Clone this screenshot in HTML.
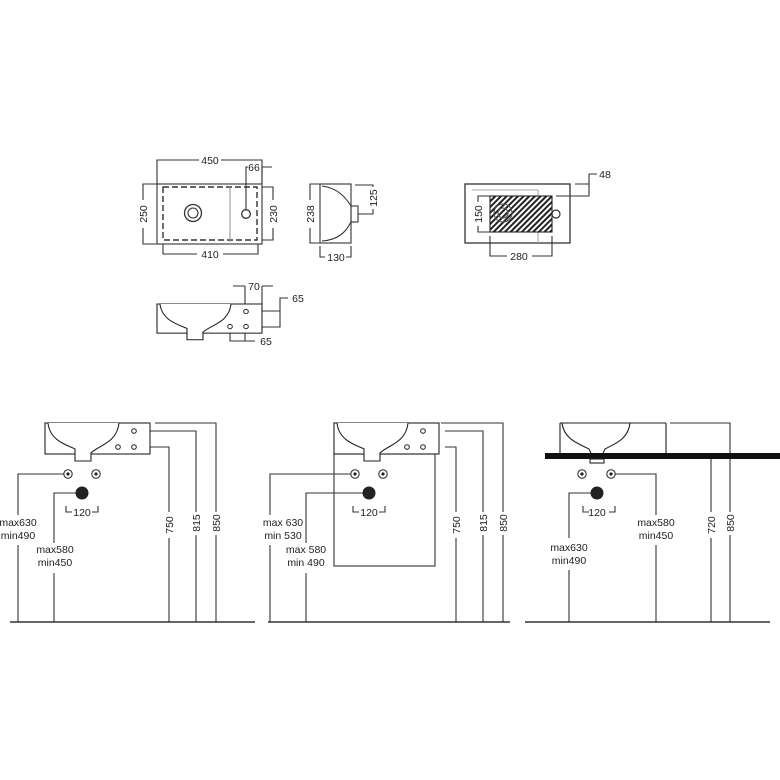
<!DOCTYPE html>
<html><head><meta charset="utf-8"><style>
html,body{margin:0;padding:0;background:#fff}
svg{display:block}
text{font-family:"Liberation Sans",Arial,sans-serif;font-size:10.5px;fill:#222}
</style></head><body>
<svg width="780" height="780" viewBox="0 0 780 780" xmlns="http://www.w3.org/2000/svg">
<defs>
<pattern id="h" width="4" height="4" patternUnits="userSpaceOnUse" patternTransform="rotate(45)">
<rect width="4" height="4" fill="#fff"/><rect width="2" height="4" fill="#222"/></pattern>
<g id="basin">
<rect x="0" y="0" width="105" height="31" fill="#fff" stroke="#222" stroke-width="1.1"/>
<path d="M3 0 C5 18 22 22 30 26 L30 38 L46 38 L46 30 C54 22 72 20 74 0" fill="#fff" stroke="#222" stroke-width="1.1"/>
<circle cx="89" cy="8" r="2.3" fill="none" stroke="#222"/>
<circle cx="89" cy="24" r="2.3" fill="none" stroke="#222"/>
<circle cx="73" cy="24" r="2.3" fill="none" stroke="#222"/>
</g>
<g id="ring"><circle r="4.2" fill="none" stroke="#222" stroke-width="1"/><circle r="1.6" fill="#222"/></g>
</defs>
<g stroke="#333" stroke-width="1.1" fill="none">
<rect x="157" y="184" width="105" height="60"/>
<rect x="163" y="187" width="94" height="53" stroke-dasharray="6,3" stroke-width="1.4"/>
<line x1="230" y1="187" x2="230" y2="242" stroke="#999"/>
<circle cx="193" cy="213" r="8.5" stroke-width="1.3"/><circle cx="193" cy="213" r="5"/>
<circle cx="246" cy="214" r="4.3" stroke-width="1.3"/>
<path d="M157 184V160H199M221 160H262V184"/>
<path d="M246 210V167H248M262 167H272M262 167V184"/>
<path d="M157 184H143V200M143 228V244H157"/>
<path d="M262 187H273V200M273 228V240H262"/>
<path d="M163 244V254H197M223 254H258V244"/>
<rect x="320" y="184" width="31" height="59"/>
<path d="M322 186C338 188 346 198 351 206M351 222C346 232 338 240 322 241"/>
<rect x="351" y="206" width="7" height="16"/>
<path d="M320 184H310V200M310 228V243H320"/>
<path d="M355 185H373V187M373 209V214H358"/>
<path d="M320 246V257H325M346 257H351V246"/>
<rect x="465" y="184" width="105" height="59" stroke-width="1.3"/>
<path d="M472 190H538V243" stroke="#aaa"/>
<rect x="490" y="196" width="62" height="36" fill="url(#h)" stroke="#222"/>
<circle cx="503" cy="213" r="9" stroke="#555"/><circle cx="503" cy="213" r="5" stroke="#555"/>
<circle cx="556" cy="214" r="4" stroke-width="1.2"/>
<path d="M490 196H478V202M478 226V232H490"/>
<path d="M490 236V256H507M532 256H552V236"/>
<path d="M575 184H589V174H597M556 196H589V184"/>
<path d="M233 286H245M262 286H273M245 286V308M262 286V304"/>
<path d="M250 311H280V298H288M250 327H280V311"/>
<path d="M230 330V341H255M245 330V341"/>
<path d="M10 622H255" stroke-width="1.6"/>
<path d="M268 622H510" stroke-width="1.6"/>
<path d="M525 622H770" stroke-width="1.6"/>
<path d="M64 474H18V515M18 545V622"/>
<path d="M76 493H54V543M54 573V622"/>
<path d="M138 447H169V512M169 538V622"/>
<path d="M138 431H196V512M196 535V622"/>
<path d="M155 423H216V512M216 535V622"/>
<path d="M351 474H270V515M270 545V622"/>
<path d="M363 493H306V543M306 573V622"/>
<path d="M445 447H456V512M456 538V622"/>
<path d="M445 431H483V512M483 535V622"/>
<path d="M441 423H503V512M503 535V622"/>
<rect x="334" y="454" width="101" height="112"/>
<path d="M615 474H656V515M656 545V622"/>
<path d="M593 493H569V538M569 570V622"/>
<path d="M711 459V512M711 538V622"/>
<path d="M670 423H730V512M730 535V622"/>
<path d="M66 506V512H72M92 512H98V506"/>
<path d="M353 506V512H359M379 512H385V506"/>
<path d="M583 506V512H589M609 512H615V506"/>
</g>
<use href="#basin" transform="translate(157,304) scale(1,0.94)"/>
<use href="#basin" transform="translate(45,423)"/>
<use href="#basin" transform="translate(334,423)"/>
<rect x="545" y="453" width="235" height="6" fill="#111"/>
<g fill="none" stroke="#222" stroke-width="1.1"><path d="M560 423V453M666 423V453M560 423H666M562 423C564 440 580 444 589 449L591 453M603 453L605 449C614 444 628 440 630 423"/><rect x="590" y="459" width="14" height="4"/></g>
<use href="#ring" x="68" y="474"/><use href="#ring" x="96" y="474"/>
<use href="#ring" x="355" y="474"/><use href="#ring" x="383" y="474"/>
<use href="#ring" x="582" y="474"/><use href="#ring" x="611" y="474"/>
<circle cx="82" cy="493" r="6.5" fill="#222"/>
<circle cx="369" cy="493" r="6.5" fill="#222"/>
<circle cx="597" cy="493" r="6.5" fill="#222"/>
<g text-anchor="middle">
<text x="210" y="164">450</text><text x="254" y="171">66</text>
<text x="210" y="258">410</text><text x="336" y="261">130</text>
<text x="519" y="260">280</text><text x="605" y="178">48</text>
<text x="254" y="290">70</text><text x="298" y="302">65</text><text x="266" y="345">65</text>
<text transform="translate(147,214) rotate(-90)">250</text>
<text transform="translate(277,214) rotate(-90)">230</text>
<text transform="translate(314,214) rotate(-90)">238</text>
<text transform="translate(377,198) rotate(-90)">125</text>
<text transform="translate(482,214) rotate(-90)">150</text>
<text x="82" y="516">120</text><text x="369" y="516">120</text><text x="597" y="516">120</text>
<text x="18" y="526">max630</text><text x="18" y="539">min490</text>
<text x="55" y="553">max580</text><text x="55" y="566">min450</text>
<text x="283" y="526">max 630</text><text x="283" y="539">min 530</text>
<text x="306" y="553">max 580</text><text x="306" y="566">min 490</text>
<text x="656" y="526">max580</text><text x="656" y="539">min450</text>
<text x="569" y="551">max630</text><text x="569" y="564">min490</text>
<text transform="translate(173,525) rotate(-90)">750</text>
<text transform="translate(200,523) rotate(-90)">815</text>
<text transform="translate(220,523) rotate(-90)">850</text>
<text transform="translate(460,525) rotate(-90)">750</text>
<text transform="translate(487,523) rotate(-90)">815</text>
<text transform="translate(507,523) rotate(-90)">850</text>
<text transform="translate(715,525) rotate(-90)">720</text>
<text transform="translate(734,523) rotate(-90)">850</text>
</g>
</svg>
</body></html>
